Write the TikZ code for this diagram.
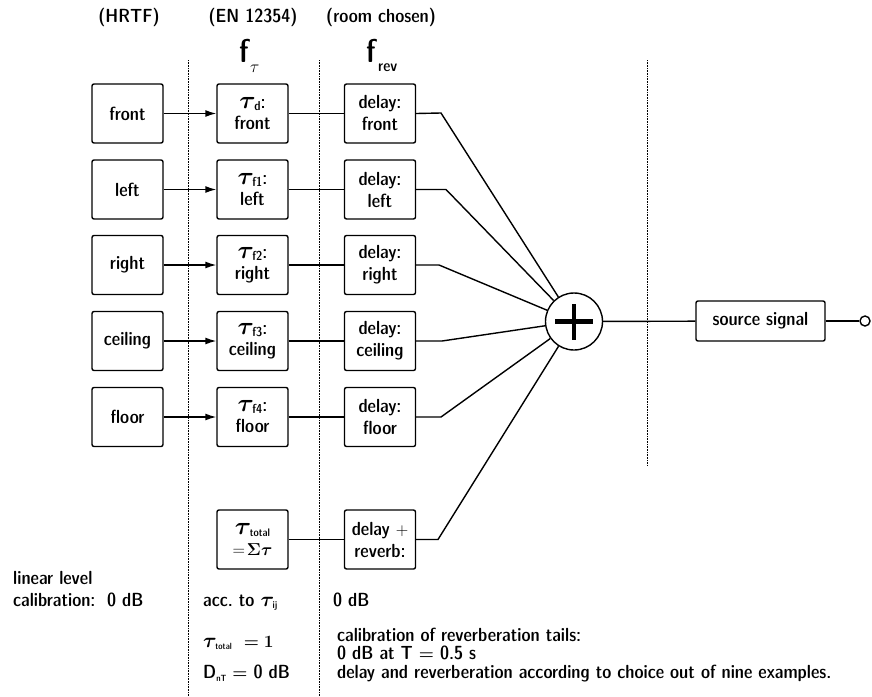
\documentclass[tikz,border=0pt]{standalone}
\usepackage{amsmath,bm}
\usetikzlibrary{arrows.meta}
% bold tau with a small sans subscript
\newcommand\taux[3][30]{\mbox{\fontsize{#1}{#1}\selectfont$\bm{\tau}$}\kern-1.5pt\raisebox{-2pt}{\fontsize{#3}{#3}\selectfont #2}}
\begin{document}
\begin{tikzpicture}[x=1pt,y=-1pt,
  font=\sffamily\fontseries{sbc}\fontsize{19}{22}\selectfont,
  blk/.style={draw,line width=1.4pt,rounded corners=2pt,minimum width=71pt,
    minimum height=59pt,align=center,inner sep=0pt},
  wire/.style={line width=1.4pt},
  arr/.style={wire,-{Latex[length=11pt,width=7pt]}},
  sep/.style={densely dotted,line width=0.6pt},
  txt/.style={anchor=west,inner sep=0pt}]
\useasboundingbox (0,0) rectangle (872,696);

% column separators
\coordinate (s1t) at (188.5,60); \coordinate (s1b) at (188.5,696);
\coordinate (s2t) at (319.5,60); \coordinate (s2b) at (319.5,696);
\coordinate (s3t) at (647,60);   \coordinate (s3b) at (647,466);
\draw[sep] (s1t) -- (s1b);
\draw[sep] (s2t) -- (s2b);
\draw[sep] (s3t) -- (s3b);

% column headings
\node (hh) at (129,17.5) {(HRTF)};
\node (he) at (253,17.5) {(EN 12354)};
\node (hr) at (381,17.5) {(room chosen)};
\node[anchor=base west,inner sep=0pt] (ft) at (239,62) {\fontsize{33}{33}\selectfont f};
\node[anchor=base west,inner sep=0pt] (fts) at (250,72) {\fontsize{17}{17}\selectfont$\tau$};
\node[anchor=base west,inner sep=0pt] (fr) at (366,62) {\fontsize{33}{33}\selectfont f};
\node[anchor=base west,inner sep=0pt] (frs) at (378,71) {\fontsize{16}{16}\selectfont rev};

% the five directions
\foreach \i/\y/\dir/\sub in {1/113.5/front/d, 2/189.5/left/f1, 3/265/right/f2,
                             4/341/ceiling/f3, 5/417/floor/f4} {
  \node[blk] (h\i) at (127.5,\y) {\dir};
  \node[blk] (t\i) at (252.5,\y) {\taux{\sub}{13}:\\[-1pt]\dir};
  \node[blk] (d\i) at (380,\y) {delay:\\\dir};
  \draw[arr] (h\i) -- (t\i);
  \draw[wire] (t\i) -- (d\i);
}

% total path with reverberation
\node[blk] (t6) at (252.5,539.5) {\taux{total}{11}\\[-1pt]$=\!\bm{\Sigma\tau}$};
\node[blk] (d6) at (380,539.5) {delay $+$\\reverb:};
\draw[wire] (t6) -- (d6);

% summation
\node[circle,draw,line width=1.4pt,minimum size=57pt,inner sep=0pt] (sum) at (574,321.5) {};
\draw[line width=4.8pt] ([xshift=-19pt]sum.center) -- ([xshift=19pt]sum.center);
\draw[line width=4.8pt] ([yshift=-18pt]sum.center) -- ([yshift=18pt]sum.center);

\coordinate (b1) at (441,113);
\coordinate (b2) at (446,189.5);
\coordinate (b3) at (439,265);
\coordinate (b4) at (442,341);
\coordinate (b5) at (441,417);
\coordinate (b6) at (438,539.5);
\foreach \i in {1,...,6} \draw[wire] (d\i.east) -- (b\i) -- (sum);

% source and output terminal
\node[draw,line width=1.4pt,rounded corners=2pt,minimum width=129pt,minimum height=40pt,inner sep=0pt] (src) at (760.5,321) {source signal};
\node[circle,draw,line width=1.4pt,minimum size=10pt,inner sep=0pt] (out) at (865,321) {};
\draw[wire] (sum) -- (src);
\draw[wire] (src) -- (out);

% calibration notes
\node[txt,anchor=south west,align=left] (n1) at (13,606.5) {linear level\\calibration:};
\node[txt,anchor=base west] (n3) at (107,606.5) {0 dB};
\node[txt,anchor=base west] (n4) at (203,606.5) {acc.\ to \taux[22]{ij}{10}};
\node[txt] (n5) at (203,643) {\taux[22]{total}{9}\ \ $\bm{=1}$};
\node[txt] (n6) at (203,673) {D\raisebox{-3pt}{\fontsize{9}{9}\selectfont nT}\ $\bm{=}$ 0 dB};
\node[txt,anchor=base west] (n7) at (333,606.5) {0 dB};
\node[txt,anchor=north west,align=left,font=\sffamily\fontseries{sbc}\fontsize{19}{18.3}\selectfont] (n8) at (337,628)
  {calibration of reverberation tails:\\0 dB at T $\bm{=}$ 0.5 s\\delay and reverberation according to choice out of nine examples.};
\end{tikzpicture}
\end{document}
